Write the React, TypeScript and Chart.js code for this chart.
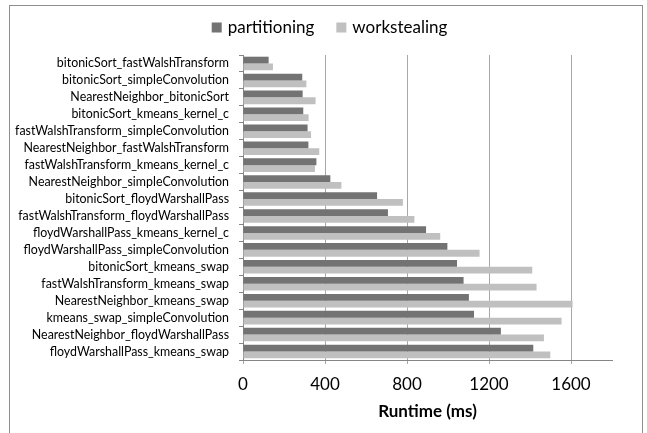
import React, { useEffect, useRef } from "react";
import { Chart, registerables } from "chart.js";

Chart.register(...registerables);

// Workload pairs, listed top to bottom
const categories = [
  "bitonicSort_fastWalshTransform",
  "bitonicSort_simpleConvolution",
  "NearestNeighbor_bitonicSort",
  "bitonicSort_kmeans_kernel_c",
  "fastWalshTransform_simpleConvolution",
  "NearestNeighbor_fastWalshTransform",
  "fastWalshTransform_kmeans_kernel_c",
  "NearestNeighbor_simpleConvolution",
  "bitonicSort_floydWarshallPass",
  "fastWalshTransform_floydWarshallPass",
  "floydWarshallPass_kmeans_kernel_c",
  "floydWarshallPass_simpleConvolution",
  "bitonicSort_kmeans_swap",
  "fastWalshTransform_kmeans_swap",
  "NearestNeighbor_kmeans_swap",
  "kmeans_swap_simpleConvolution",
  "NearestNeighbor_floydWarshallPass",
  "floydWarshallPass_kmeans_swap",
];

// Runtime in ms
const partitioning = [
  125, 289, 291, 294, 315, 319, 358, 426, 654, 707, 893, 997, 1044, 1076, 1102, 1127, 1258, 1416,
];
const workstealing = [
  146, 309, 354, 320, 332, 372, 351, 480, 780, 836, 962, 1154, 1411, 1432, 1608, 1554, 1468, 1499,
];

const seriesNames = ["partitioning", "workstealing"];
const seriesColors = ["#737373", "#c0c0c0"];

const axisTitle = "Runtime (ms)";
const xMin = 0;
const xMax = 1800;
const xStep = 400;

const FONT = "Lato, 'Open Sans', sans-serif";

// Frame around the whole figure plus a centered legend row above the plot
const decorations = {
  id: "decorations",
  afterDraw(chart: Chart) {
    const ctx = chart.ctx;
    ctx.save();
    ctx.strokeStyle = "#8e8e8e";
    ctx.lineWidth = 1;
    ctx.strokeRect(9.5, 5.5, 633, 440);

    ctx.font = `17px ${FONT}`;
    ctx.textBaseline = "middle";
    ctx.textAlign = "left";
    const box = 10;
    const gapBoxText = 6;
    const gapItems = 22;
    const items = chart.data.datasets.map((ds) => ({
      text: String(ds.label),
      color: String(ds.backgroundColor),
      w: ctx.measureText(String(ds.label)).width,
    }));
    let total = 0;
    items.forEach((it, i) => {
      total += box + gapBoxText + it.w + (i < items.length - 1 ? gapItems : 0);
    });
    let x = chart.width / 2 + 6 - total / 2;
    const cy = 27.5;
    items.forEach((it) => {
      ctx.fillStyle = it.color;
      ctx.fillRect(x, cy - box / 2, box, box);
      x += box + gapBoxText;
      ctx.fillStyle = "#000";
      ctx.fillText(it.text, x, cy);
      x += it.w + gapItems;
    });
    ctx.restore();
  },
};

export default function App() {
  const canvasRef = useRef<HTMLCanvasElement | null>(null);

  useEffect(() => {
    if (!canvasRef.current) return;
    const chart = new Chart(canvasRef.current, {
      type: "bar",
      data: {
        labels: categories,
        datasets: [
          {
            label: seriesNames[0],
            data: partitioning,
            backgroundColor: seriesColors[0],
            borderWidth: 0,
          },
          {
            label: seriesNames[1],
            data: workstealing,
            backgroundColor: seriesColors[1],
            borderWidth: 0,
          },
        ],
      },
      options: {
        indexAxis: "y",
        responsive: true,
        maintainAspectRatio: false,
        animation: false,
        layout: { padding: { top: 55, right: 35, bottom: 0, left: 0 } },
        datasets: {
          bar: { categoryPercentage: 0.8, barPercentage: 1 },
        },
        plugins: {
          legend: { display: false },
          tooltip: { enabled: false },
        },
        scales: {
          x: {
            type: "linear",
            min: xMin,
            max: xMax,
            afterFit(scale: any) {
              scale.height = 73;
            },
            ticks: {
              stepSize: xStep,
              includeBounds: false,
              color: "#000",
              padding: 10,
              font: { family: FONT, size: 17 },
              callback: (v: any) => String(v),
            },
            grid: {
              color: "#a8a8a8",
              lineWidth: 1,
              tickLength: 4,
              drawTicks: true,
            },
            border: { color: "#868686", width: 1 },
            title: {
              display: true,
              text: axisTitle,
              color: "#000",
              font: { family: FONT, size: 17, weight: "bold" },
              padding: { top: 0, bottom: 11 },
            },
          },
          y: {
            type: "category",
            afterFit(scale: any) {
              scale.width = 243;
            },
            ticks: {
              color: "#000",
              padding: 10,
              autoSkip: false,
              font: { family: FONT, size: 12.4 },
            },
            grid: {
              drawOnChartArea: false,
              drawTicks: true,
              tickLength: 4,
              color: "#868686",
            },
            border: { color: "#868686", width: 1 },
          },
        },
      },
      plugins: [decorations],
    });
    return () => chart.destroy();
  }, []);

  return (
    <div
      style={{
        position: "fixed",
        left: 0,
        top: 0,
        width: 647,
        height: 433,
        background: "#fff",
      }}
    >
      <canvas ref={canvasRef} />
    </div>
  );
}
